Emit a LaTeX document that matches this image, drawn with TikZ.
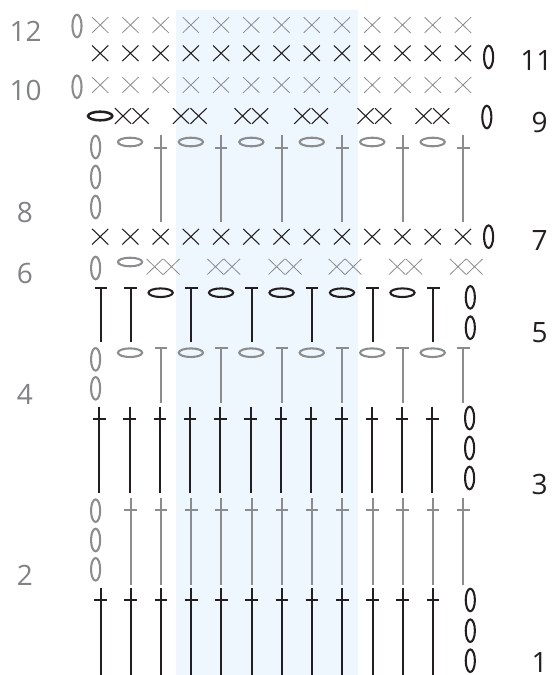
\documentclass[tikz,border=0pt]{standalone}
\usepackage{fontspec}
\setmainfont{Open Sans}
\definecolor{ink}{HTML}{231F20}
\definecolor{dim}{HTML}{8A8C8E}
\definecolor{lab}{HTML}{808285}
\definecolor{band}{HTML}{EEF7FD}
\tikzset{
 numlabel/.style={inner sep=0pt,font=\fontsize{21pt}{23pt}\selectfont},
 darkx/.style={draw=ink,line width=0.8pt},
 lightx/.style={draw=dim,line width=0.6pt},
 darkpost/.style={draw=ink,line width=1.5pt},
 lightpost/.style={draw=dim,line width=1.5pt},
 darkbar/.style={draw=ink,line width=1.3pt},
 lightbar/.style={draw=dim,line width=1.3pt},
 darkchain/.style={draw=ink,line width=1.55pt},
 lightchain/.style={draw=dim,line width=1.55pt},
 heavychain/.style={draw=ink,line width=1.9pt}
}
% x in zoom units, y in px
\newcommand{\xmark}[3]{\draw[#3] (#1-23,#2-7.8) -- (#1+23,#2+7.8) (#1-23,#2+7.8) -- (#1+23,#2-7.8);}
\newcommand{\vchain}[3]{\draw[#3] (#1,#2) ellipse [x radius=13,y radius=11.3];}
\newcommand{\hchain}[3]{\draw[#3] (#1,#2) ellipse [x radius=34.5,y radius=4.3];}
\newcommand{\post}[6]{\draw[#5] (#1,#2) -- (#1,#3); \draw[#6] (#1-18,#4) -- (#1+18,#4);}
\begin{document}
\begin{tikzpicture}[x=0.26362pt,y=-0.75pt]
\useasboundingbox (0,0) rectangle (1567.6,675);
\fill[band] (501,10) rectangle (1018,675);
% labels
\node[numlabel,text=lab] (l12) at (73,31) {12};
\node[numlabel,text=lab] (l10) at (73,90) {10};
\node[numlabel,text=lab] (l8) at (71,212) {8};
\node[numlabel,text=lab] (l6) at (71,273) {6};
\node[numlabel,text=lab] (l4) at (71,394) {4};
\node[numlabel,text=lab] (l2) at (71,575) {2};
\node[numlabel,text=ink] (l11) at (1526,61) {11};
\node[numlabel,text=ink] (l9) at (1535,122) {9};
\node[numlabel,text=ink] (l7) at (1535,241) {7};
\node[numlabel,text=ink] (l5) at (1535,333) {5};
\node[numlabel,text=ink] (l3) at (1535,484) {3};
\node[numlabel,text=ink] (l1) at (1535,662) {1};
% rows of X
\foreach \x in {285,371,457,543,629,715,801,887,973,1059,1145,1231,1317}{
 \xmark{\x}{25}{lightx}
 \xmark{\x}{53.3}{darkx}
 \xmark{\x}{85}{lightx}
 \xmark{\x}{236.7}{darkx}
}
\vchain{219}{26}{lightchain}
\vchain{1390}{57}{darkchain}
\vchain{219}{86.7}{lightchain}
% row 9
\hchain{285}{116}{heavychain}
\foreach \x in {350,400,515,565,690,740,860,910,1040,1090,1205,1255}{\xmark{\x}{116}{darkx}}
\vchain{1385}{117}{darkchain}
% row 8
\foreach \y in {147,177,207}{\vchain{272}{\y}{lightchain}}
\foreach \x in {370,543,715,887,1059,1231}{\hchain{\x}{142}{lightchain}}
\foreach \x in {457,629,801,974,1146,1318}{\post{\x}{135}{222}{148}{lightpost}{lightbar}}
% row 7 end
\vchain{1390}{236.7}{darkchain}
% row 6
\vchain{272}{268}{lightchain}
\hchain{370}{262}{lightchain}
\foreach \x in {440,488,613,660,787,835,958,1005,1130,1178,1303,1350}{\xmark{\x}{266.7}{lightx}}
% row 5
\foreach \x in {287,372,544,716,888,1060,1233}{\post{\x}{288}{342.3}{288}{darkpost}{darkbar}}
\foreach \x in {457,629,801,973,1145}{\hchain{\x}{292.7}{darkchain}}
\vchain{1338}{297.3}{darkchain}
\vchain{1338}{327.7}{darkchain}
% row 4
\vchain{272}{359.3}{lightchain}
\vchain{272}{388.3}{lightchain}
\foreach \x in {370,543,715,887,1059,1231}{\hchain{\x}{352.7}{lightchain}}
\foreach \x in {458,630,802,974,1146,1318}{\post{\x}{348.3}{402.7}{348.3}{lightpost}{lightbar}}
% row 3
\foreach \x in {283,369,455,541,627,713,799,885,972,1058,1144,1230}{\post{\x}{406.7}{493.3}{419}{darkpost}{darkbar}}
\vchain{1336}{418}{darkchain}
\vchain{1336}{448}{darkchain}
\vchain{1336}{478}{darkchain}
% row 2
\foreach \y in {510.7,540,569.3}{\vchain{272}{\y}{lightchain}}
\foreach \x in {372,458,544,630,716,802,888,974,1060,1146,1232,1318}{\post{\x}{498.3}{585}{510}{lightpost}{lightbar}}
% row 1
\foreach \x in {286,372,458,544,630,716,802,888,974,1060,1146,1232}{\post{\x}{588.3}{675}{600}{darkpost}{darkbar}}
\foreach \y in {600,630.7,660.7}{\vchain{1338}{\y}{darkchain}}
\end{tikzpicture}
\end{document}
